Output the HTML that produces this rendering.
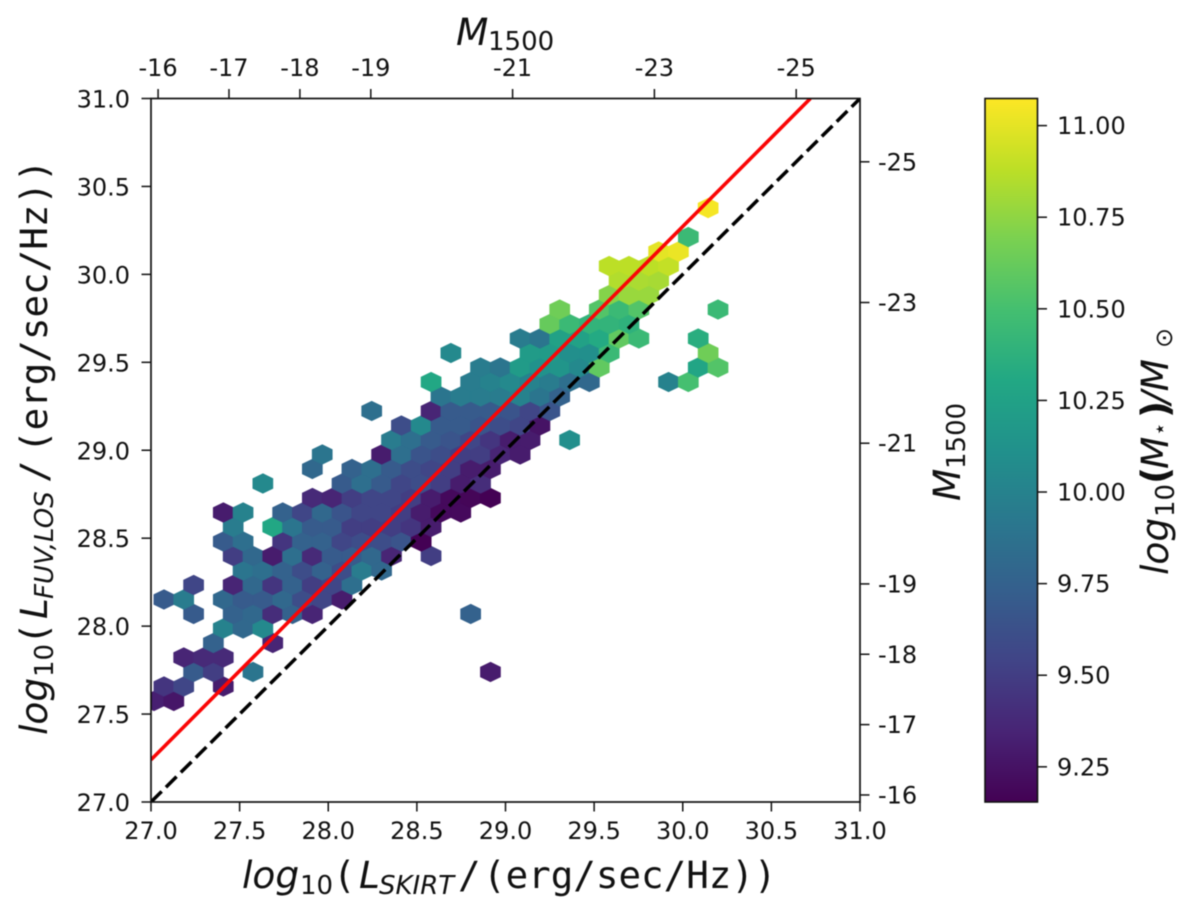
<!DOCTYPE html>
<html>
<head>
<meta charset="utf-8">
<style>
html,body{margin:0;padding:0;background:#fff;}
svg{display:block;filter:blur(0.45px);}
text{font-family:"DejaVu Sans","Liberation Sans",sans-serif;fill:#111;}
.mono{font-family:"DejaVu Sans Mono","Liberation Mono",monospace;font-size:37.5px;}
.tick{font-size:24px;}
.lab{font-size:37.5px;font-style:italic;}
.sub{font-size:26px;font-style:italic;}
.subr{font-size:26px;}
.paren{font-size:37.5px;font-weight:bold;}
</style>
</head>
<body>
<svg id="chart" xmlns="http://www.w3.org/2000/svg" width="1200" height="917" viewBox="0 0 1200 917">
  <defs>
    <clipPath id="plotClip"><rect x="151" y="98.5" width="709" height="703.5"/></clipPath>
    <linearGradient id="viridisGrad" x1="0" y1="1" x2="0" y2="0"></linearGradient>
  </defs>
  <rect x="151" y="98.5" width="709" height="703.5" fill="#fff"/>
  <g id="hexes" clip-path="url(#plotClip)"></g>
  <g id="lines" clip-path="url(#plotClip)"></g>
  <g id="axes"></g>
  <rect x="985" y="98.5" width="52.5" height="703.5" fill="url(#viridisGrad)" stroke="#111" stroke-width="1.6"/>
  <g id="cbarTicks"></g>

  <text y="888">
    <tspan class="lab" x="242">log</tspan><tspan class="subr" x="300" dy="6">10</tspan><tspan class="mono" x="333" dy="-6">(</tspan><tspan class="lab" x="359">L</tspan><tspan class="sub" x="379" dy="6">SKIRT</tspan><tspan class="mono" x="458" dy="-6">/</tspan><tspan class="mono" x="483">(erg/sec/Hz))</tspan>
  </text>

  <g transform="translate(47,735) rotate(-90)">
    <text y="0">
      <tspan class="lab" x="0">log</tspan><tspan class="subr" x="58" dy="6">10</tspan><tspan class="mono" x="90" dy="-6">(</tspan><tspan class="lab" x="116">L</tspan><tspan class="sub" x="136" dy="6">FUV,LOS</tspan><tspan class="mono" x="252" dy="-6">/</tspan><tspan class="mono" x="282">(erg/sec/Hz))</tspan>
    </text>
  </g>

  <text y="45">
    <tspan class="lab" x="456">M</tspan><tspan class="subr" x="488" dy="5">1500</tspan>
  </text>

  <g transform="translate(960,501) rotate(-90)">
    <text y="0"><tspan class="lab" x="0">M</tspan><tspan class="subr" x="32" dy="5">1500</tspan></text>
  </g>

  <g transform="translate(1168,575) rotate(-90)">
    <text y="0">
      <tspan class="lab" x="0">log</tspan><tspan class="subr" x="58" dy="6">10</tspan><tspan class="paren" x="91" dy="-6">(</tspan><tspan class="lab" x="106">M</tspan><tspan class="subr" x="139" dy="-1" style="font-size:22px">⋆</tspan><tspan class="paren" x="157" dy="1">)</tspan><tspan class="lab" x="171">/M</tspan><tspan class="subr" x="227" dy="4" style="font-size:24px">⊙</tspan>
    </text>
  </g>
</svg>
<script>
// ---- axis limits and ticks
const xLimits = [27, 31];
const yLimits = [27, 31];
const xTickValues = [27.0, 27.5, 28.0, 28.5, 29.0, 29.5, 30.0, 30.5, 31.0];
const yTickValues = [27.0, 27.5, 28.0, 28.5, 29.0, 29.5, 30.0, 30.5, 31.0];
const magnitudeTicksTop = [-16, -17, -18, -19, -21, -23, -25];
const magnitudeTicksRight = [-16, -17, -18, -19, -21, -23, -25];
const colorbarTicks = [9.25, 9.5, 9.75, 10.0, 10.25, 10.5, 10.75, 11.0];
const massLimits = [9.154, 11.074];

// ---- reference lines (data units)
const fitLineX = [27, 30.72];
const fitLineY = [27.24, 31];
const unityLineX = [27, 31];
const unityLineY = [27, 31];

// ---- hexbin grid (data units)
const gridOriginX = 27.017;
const gridOriginY = 27.5743;
const gridStepX = 0.11165;
const gridStepY = 0.08244;

// ---- hexbin cells: row index, occupied columns per row, log stellar mass per cell
const hexRows = [0,1,2,3,4,5,6,7,8,9,10,11,12,13,14,15,16,17,18,19,20,21,22,23,24,25,26,27,28,29,30,31,32,34];
const hexColumns = [
[0,1],
[0,1,3],
[2,3,5,17],
[1,2,3],
[3,6],
[3,4,5],
[2,4,5,6,7,8,16],
[0,1,3,4,5,6,7,8,9],
[2,4,5,6,7,8,9,10],
[4,5,6,7,8,9,10,11],
[4,5,6,7,8,9,10,11,12,14],
[3,4,6,7,8,9,10,11,12,13],
[4,6,7,8,9,10,11,12,13,14],
[3,4,6,7,8,9,10,11,12,13,14,15],
[8,9,10,11,12,13,14,15,16,17],
[5,9,10,11,12,13,14,15,16],
[8,10,11,12,13,14,15,16,17],
[8,11,12,13,14,15,16,17,18],
[12,13,14,15,16,17,18,19,21],
[12,13,14,15,16,17,18,19],
[11,14,15,16,17,18,19,20],
[14,15,16,17,18,19,20],
[14,16,17,18,19,20,21,22,26,27],
[16,17,18,19,20,21,22,27,28],
[15,19,20,21,22,23,28],
[18,19,20,21,22,23,24,27],
[20,21,22,23,24],
[20,22,23,24,28],
[23,24,25],
[23,24,25],
[23,24,25,26],
[25,26],
[27],
[28]
];
const hexMass = [
[9.32,9.27],
[9.45,9.55,9.3],
[9.7,9.5,9.9,9.3],
[9.35,9.38,9.38],
[9.75,9.35],
[10.0,9.8,10.05],
[9.7,9.75,9.8,9.4,9.75,9.35,9.75],
[9.7,9.95,9.8,9.7,9.7,9.8,9.6,9.55,9.3],
[9.55,9.35,9.8,9.45,9.75,9.5,9.55,9.85],
[9.9,9.85,9.75,9.6,9.75,9.6,9.95,9.8],
[9.5,9.8,9.3,9.85,9.38,9.7,9.7,9.8,9.35,9.5],
[9.7,9.85,9.45,9.75,9.75,9.55,9.6,9.6,9.65,9.15],
[9.95,10.3,9.9,9.7,9.7,9.5,9.5,9.5,9.45,9.3],
[9.3,10.0,9.75,9.55,9.8,9.65,9.55,9.55,9.5,9.3,9.2,9.2],
[9.38,9.35,9.5,9.55,9.55,9.5,9.3,9.2,9.18,9.15],
[10.05,9.7,9.85,9.7,9.55,9.6,9.5,9.3,9.4],
[9.8,9.75,9.85,9.7,9.6,9.55,9.5,9.3,9.3],
[9.9,9.3,9.85,9.65,9.6,9.5,9.5,9.35,9.3],
[9.95,9.85,9.7,9.65,9.55,9.45,9.3,9.3,10.1],
[9.6,10.05,9.7,9.7,9.65,9.6,9.55,9.25],
[9.85,9.35,9.7,9.7,9.7,9.65,9.55,9.65],
[9.9,9.95,9.95,9.95,10.0,9.9,9.75],
[10.3,9.95,10.0,10.05,10.0,9.95,9.85,9.8,10.0,10.5],
[9.95,9.9,10.2,10.12,10.15,10.05,10.6,10.28,10.55],
[10.05,10.2,10.2,10.1,10.1,10.45,10.65],
[9.95,9.9,10.25,10.25,10.32,10.6,10.45,10.35],
[10.62,10.45,10.4,10.4,10.38],
[10.65,10.55,10.45,10.55,10.45],
[10.72,10.78,10.78],
[10.85,10.83,10.82],
[10.88,10.88,10.88,10.9],
[11.0,11.02],
[10.45],
[11.05]
];

// ---- viridis anchors
const viridisStops = ["#440154","#482475","#414487","#355f8d","#2a788e","#21918c","#22a884","#44bf70","#7ad151","#bddf26","#fde725"];

const NS = "http://www.w3.org/2000/svg";
const plotLeft = 151, plotRight = 860, plotTop = 98.5, plotBottom = 802;
const cbarTop = 98.5, cbarBottom = 802, cbarRight = 1037.5;

function xAxis(v){ return plotLeft + (v - xLimits[0]) / (xLimits[1] - xLimits[0]) * (plotRight - plotLeft); }
function yAxis(v){ return plotBottom - (v - yLimits[0]) / (yLimits[1] - yLimits[0]) * (plotBottom - plotTop); }
function massAxis(v){ return cbarBottom - (v - massLimits[0]) / (massLimits[1] - massLimits[0]) * (cbarBottom - cbarTop); }
function magToLog(m){ return 27.04 + (-m - 16) * 0.4; }

function hexToRgb(h){ return [parseInt(h.slice(1,3),16), parseInt(h.slice(3,5),16), parseInt(h.slice(5,7),16)]; }
function viridis(t){
  t = Math.max(0, Math.min(1, t));
  const p = t * (viridisStops.length - 1);
  const i = Math.min(Math.floor(p), viridisStops.length - 2);
  const f = p - i;
  const a = hexToRgb(viridisStops[i]), b = hexToRgb(viridisStops[i + 1]);
  return "rgb(" + a.map((c, j) => Math.round(c + (b[j] - c) * f)).join(",") + ")";
}
function massColor(m){ return viridis((m - massLimits[0]) / (massLimits[1] - massLimits[0])); }

function make(tag, attrs, parent){
  const el = document.createElementNS(NS, tag);
  for (const k in attrs) el.setAttribute(k, attrs[k]);
  parent.appendChild(el);
  return el;
}

// colorbar gradient
const grad = document.getElementById("viridisGrad");
viridisStops.forEach((c, i) => {
  make("stop", {offset: (i / (viridisStops.length - 1)), "stop-color": c}, grad);
});

// hex cells
const hexLayer = document.getElementById("hexes");
hexRows.forEach((row, r) => {
  hexColumns[r].forEach((col, c) => {
    const cx = gridOriginX + gridStepX * (col + (row % 2 ? 0.5 : 0));
    const cy = gridOriginY + gridStepY * row;
    const hw = gridStepX / 2, h1 = gridStepY / 3, h2 = gridStepY * 2 / 3;
    const pts = [[cx, cy + h2], [cx + hw, cy + h1], [cx + hw, cy - h1], [cx, cy - h2], [cx - hw, cy - h1], [cx - hw, cy + h1]]
      .map(p => xAxis(p[0]).toFixed(2) + "," + yAxis(p[1]).toFixed(2)).join(" ");
    const color = massColor(hexMass[r][c]);
    const poly = make("polygon", {points: pts, fill: color, stroke: color, "stroke-width": 0.9}, hexLayer);
    
    
  });
});

// reference lines
const lineLayer = document.getElementById("lines");
const unity = make("line", {x1: xAxis(unityLineX[0]), y1: yAxis(unityLineY[0]), x2: xAxis(unityLineX[1]), y2: yAxis(unityLineY[1]), stroke: "#000", "stroke-width": 3.5, "stroke-dasharray": "15 6"}, lineLayer);


const fit = make("line", {x1: xAxis(fitLineX[0]), y1: yAxis(fitLineY[0]), x2: xAxis(fitLineX[1]), y2: yAxis(fitLineY[1]), stroke: "#fa0505", "stroke-width": 3.6}, lineLayer);



// axes
const axes = document.getElementById("axes");
const spine = make("rect", {x: plotLeft, y: plotTop, width: plotRight - plotLeft, height: plotBottom - plotTop, fill: "none", stroke: "#111", "stroke-width": 1.7}, axes);



function tick(x1, y1, x2, y2, parent){
  const t = make("line", {x1: x1, y1: y1, x2: x2, y2: y2, stroke: "#111", "stroke-width": 1.5}, parent);
  
  
}
function label(str, x, y, anchor, parent){
  const t = make("text", {x: x, y: y, "text-anchor": anchor, class: "tick"}, parent);
  t.textContent = str;
  
  
}

xTickValues.forEach(v => {
  tick(xAxis(v), plotBottom, xAxis(v), plotBottom + 9.5, axes);
  label(v.toFixed(1), xAxis(v), 839, "middle", axes);
});
yTickValues.forEach(v => {
  tick(plotLeft - 9.5, yAxis(v), plotLeft, yAxis(v), axes);
  label(v.toFixed(1), 130, yAxis(v) + 9, "end", axes);
});
magnitudeTicksTop.forEach(m => {
  const x = xAxis(magToLog(m));
  tick(x, plotTop - 9.5, x, plotTop, axes);
  label(String(m), x, 76, "middle", axes);
});
magnitudeTicksRight.forEach(m => {
  const y = yAxis(magToLog(m));
  tick(plotRight, y, plotRight + 9.5, y, axes);
  label(String(m), 878, y + 8.5, "start", axes);
});

// colorbar ticks
const cbarLayer = document.getElementById("cbarTicks");
colorbarTicks.forEach(v => {
  const y = massAxis(v);
  tick(cbarRight, y, cbarRight + 9.5, y, cbarLayer);
  label(v.toFixed(2), 1057, y + 8.5, "start", cbarLayer);
});
</script>
</body>
</html>
